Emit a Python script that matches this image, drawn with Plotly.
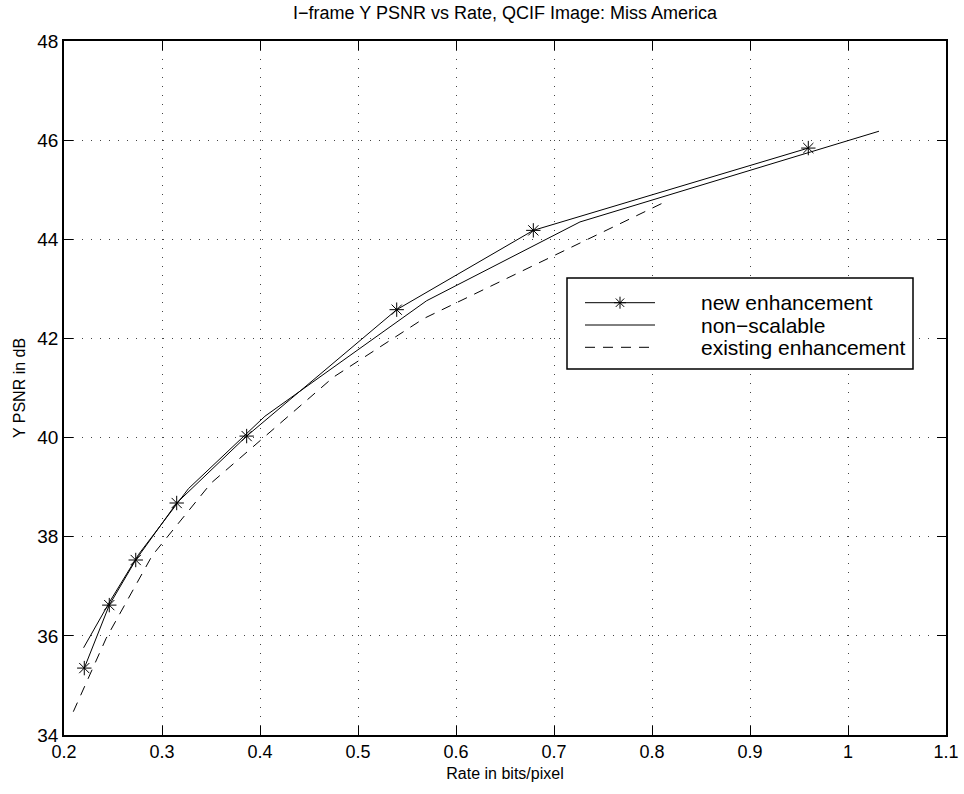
import plotly.graph_objects as go

# New enhancement (with star markers)
new_rate = [0.2207, 0.2462, 0.2732, 0.3150, 0.3864, 0.5395, 0.6789, 0.9595]
new_psnr = [35.35, 36.62, 37.53, 38.68, 40.03, 42.58, 44.18, 45.84]

# Non-scalable
ns_rate = [0.2200, 0.2470, 0.2760, 0.3270, 0.4050, 0.5700, 0.7265, 1.0316]
ns_psnr = [35.76, 36.70, 37.64, 38.97, 40.43, 42.76, 44.35, 46.18]

# Existing enhancement (dashed)
ex_rate = [0.2095, 0.2430, 0.2900, 0.3500, 0.4750, 0.5670, 0.8150]
ex_psnr = [34.47, 35.95, 37.62, 39.08, 41.22, 42.40, 44.77]

series_names = ["new enhancement", "non\u2212scalable", "existing enhancement"]

x_ticks = [0.2, 0.3, 0.4, 0.5, 0.6, 0.7, 0.8, 0.9, 1.0, 1.1]
x_tick_text = ["0.2", "0.3", "0.4", "0.5", "0.6", "0.7", "0.8", "0.9", "1", "1.1"]
y_ticks = [34, 36, 38, 40, 42, 44, 46, 48]

FONT = "Liberation Sans, Arial, Helvetica, sans-serif"
W, H = 964, 794
L, R, T, B = 64, 946, 41, 735  # plot area in pixels


def px(xp):
    return (xp - L) / (R - L)


def py(yp):
    return (B - yp) / (B - T)


fig = go.Figure()
fig.add_trace(go.Scatter(
    x=new_rate, y=new_psnr, mode="lines+markers", name=series_names[0],
    line=dict(color="black", width=1),
    marker=dict(symbol="asterisk-open", size=12, color="black",
                line=dict(color="black", width=1)),
    showlegend=False,
))
fig.add_trace(go.Scatter(
    x=ns_rate, y=ns_psnr, mode="lines", name=series_names[1],
    line=dict(color="black", width=1), showlegend=False,
))
fig.add_trace(go.Scatter(
    x=ex_rate, y=ex_psnr, mode="lines", name=series_names[2],
    line=dict(color="black", width=1, dash="10px,8px"), showlegend=False,
))

axis_common = dict(
    showline=True, linecolor="black", linewidth=1.5, mirror="ticks",
    ticks="inside", ticklen=9, tickcolor="black", tickwidth=1,
    showgrid=True, gridcolor="#444444", gridwidth=1, griddash="1px,8px",
    zeroline=False, automargin=False,
)

fig.update_xaxes(
    range=[0.2, 1.1], tickvals=x_ticks, ticktext=x_tick_text,
    tickfont=dict(family=FONT, size=18, color="black"),
    title=dict(text="Rate in bits/pixel", font=dict(family=FONT, size=16, color="black"),
               standoff=6),
    **axis_common,
)
fig.update_yaxes(
    range=[34, 48], tickvals=y_ticks,
    tickfont=dict(family=FONT, size=19, color="black"),
    title=dict(text="Y PSNR in dB", font=dict(family=FONT, size=16, color="black"),
               standoff=8),
    **axis_common,
)

# Legend drawn as in the reference (box, long line samples, text to the right)
shapes = [dict(type="rect", xref="paper", yref="paper",
               x0=px(567), x1=px(913), y0=py(278), y1=py(369),
               line=dict(color="black", width=1.5), fillcolor="white", layer="above")]
rows = [302.7, 325.0, 347.3]
dashes = ["solid", "solid", "10px,8px"]
annotations = []
for name, yrow, dsh in zip(series_names, rows, dashes):
    shapes.append(dict(type="line", xref="paper", yref="paper",
                       x0=px(585), x1=px(655), y0=py(yrow), y1=py(yrow),
                       line=dict(color="black", width=1, dash=dsh), layer="above"))
    annotations.append(dict(text=name, xref="paper", yref="paper",
                            x=px(699), y=py(yrow), xanchor="left", yanchor="middle",
                            showarrow=False,
                            font=dict(family=FONT, size=21, color="black")))
# star glyph on the first legend line
shapes.append(dict(type="path", xref="paper", yref="paper",
                   xsizemode="pixel", ysizemode="pixel",
                   xanchor=px(620), yanchor=py(rows[0]),
                   path="M-6,0L6,0M0,-6L0,6M-4.2,-4.2L4.2,4.2M-4.2,4.2L4.2,-4.2",
                   line=dict(color="black", width=1), layer="above"))

fig.update_layout(
    width=W, height=H,
    margin=dict(l=L, r=W - R, t=T, b=H - B, autoexpand=False),
    paper_bgcolor="white", plot_bgcolor="white",
    title=dict(text="I\u2212frame Y PSNR vs Rate, QCIF Image: Miss America",
               font=dict(family=FONT, size=18, color="black"),
               x=0.5, xanchor="center", xref="paper",
               y=1 - 13 / H, yanchor="middle", yref="container"),
    shapes=shapes,
    annotations=annotations,
    showlegend=False,
)

fig.write_html(
    "out.html",
    config={"displayModeBar": False},
    post_script="document.body.style.margin='0px';document.body.style.overflow='hidden';",
)
